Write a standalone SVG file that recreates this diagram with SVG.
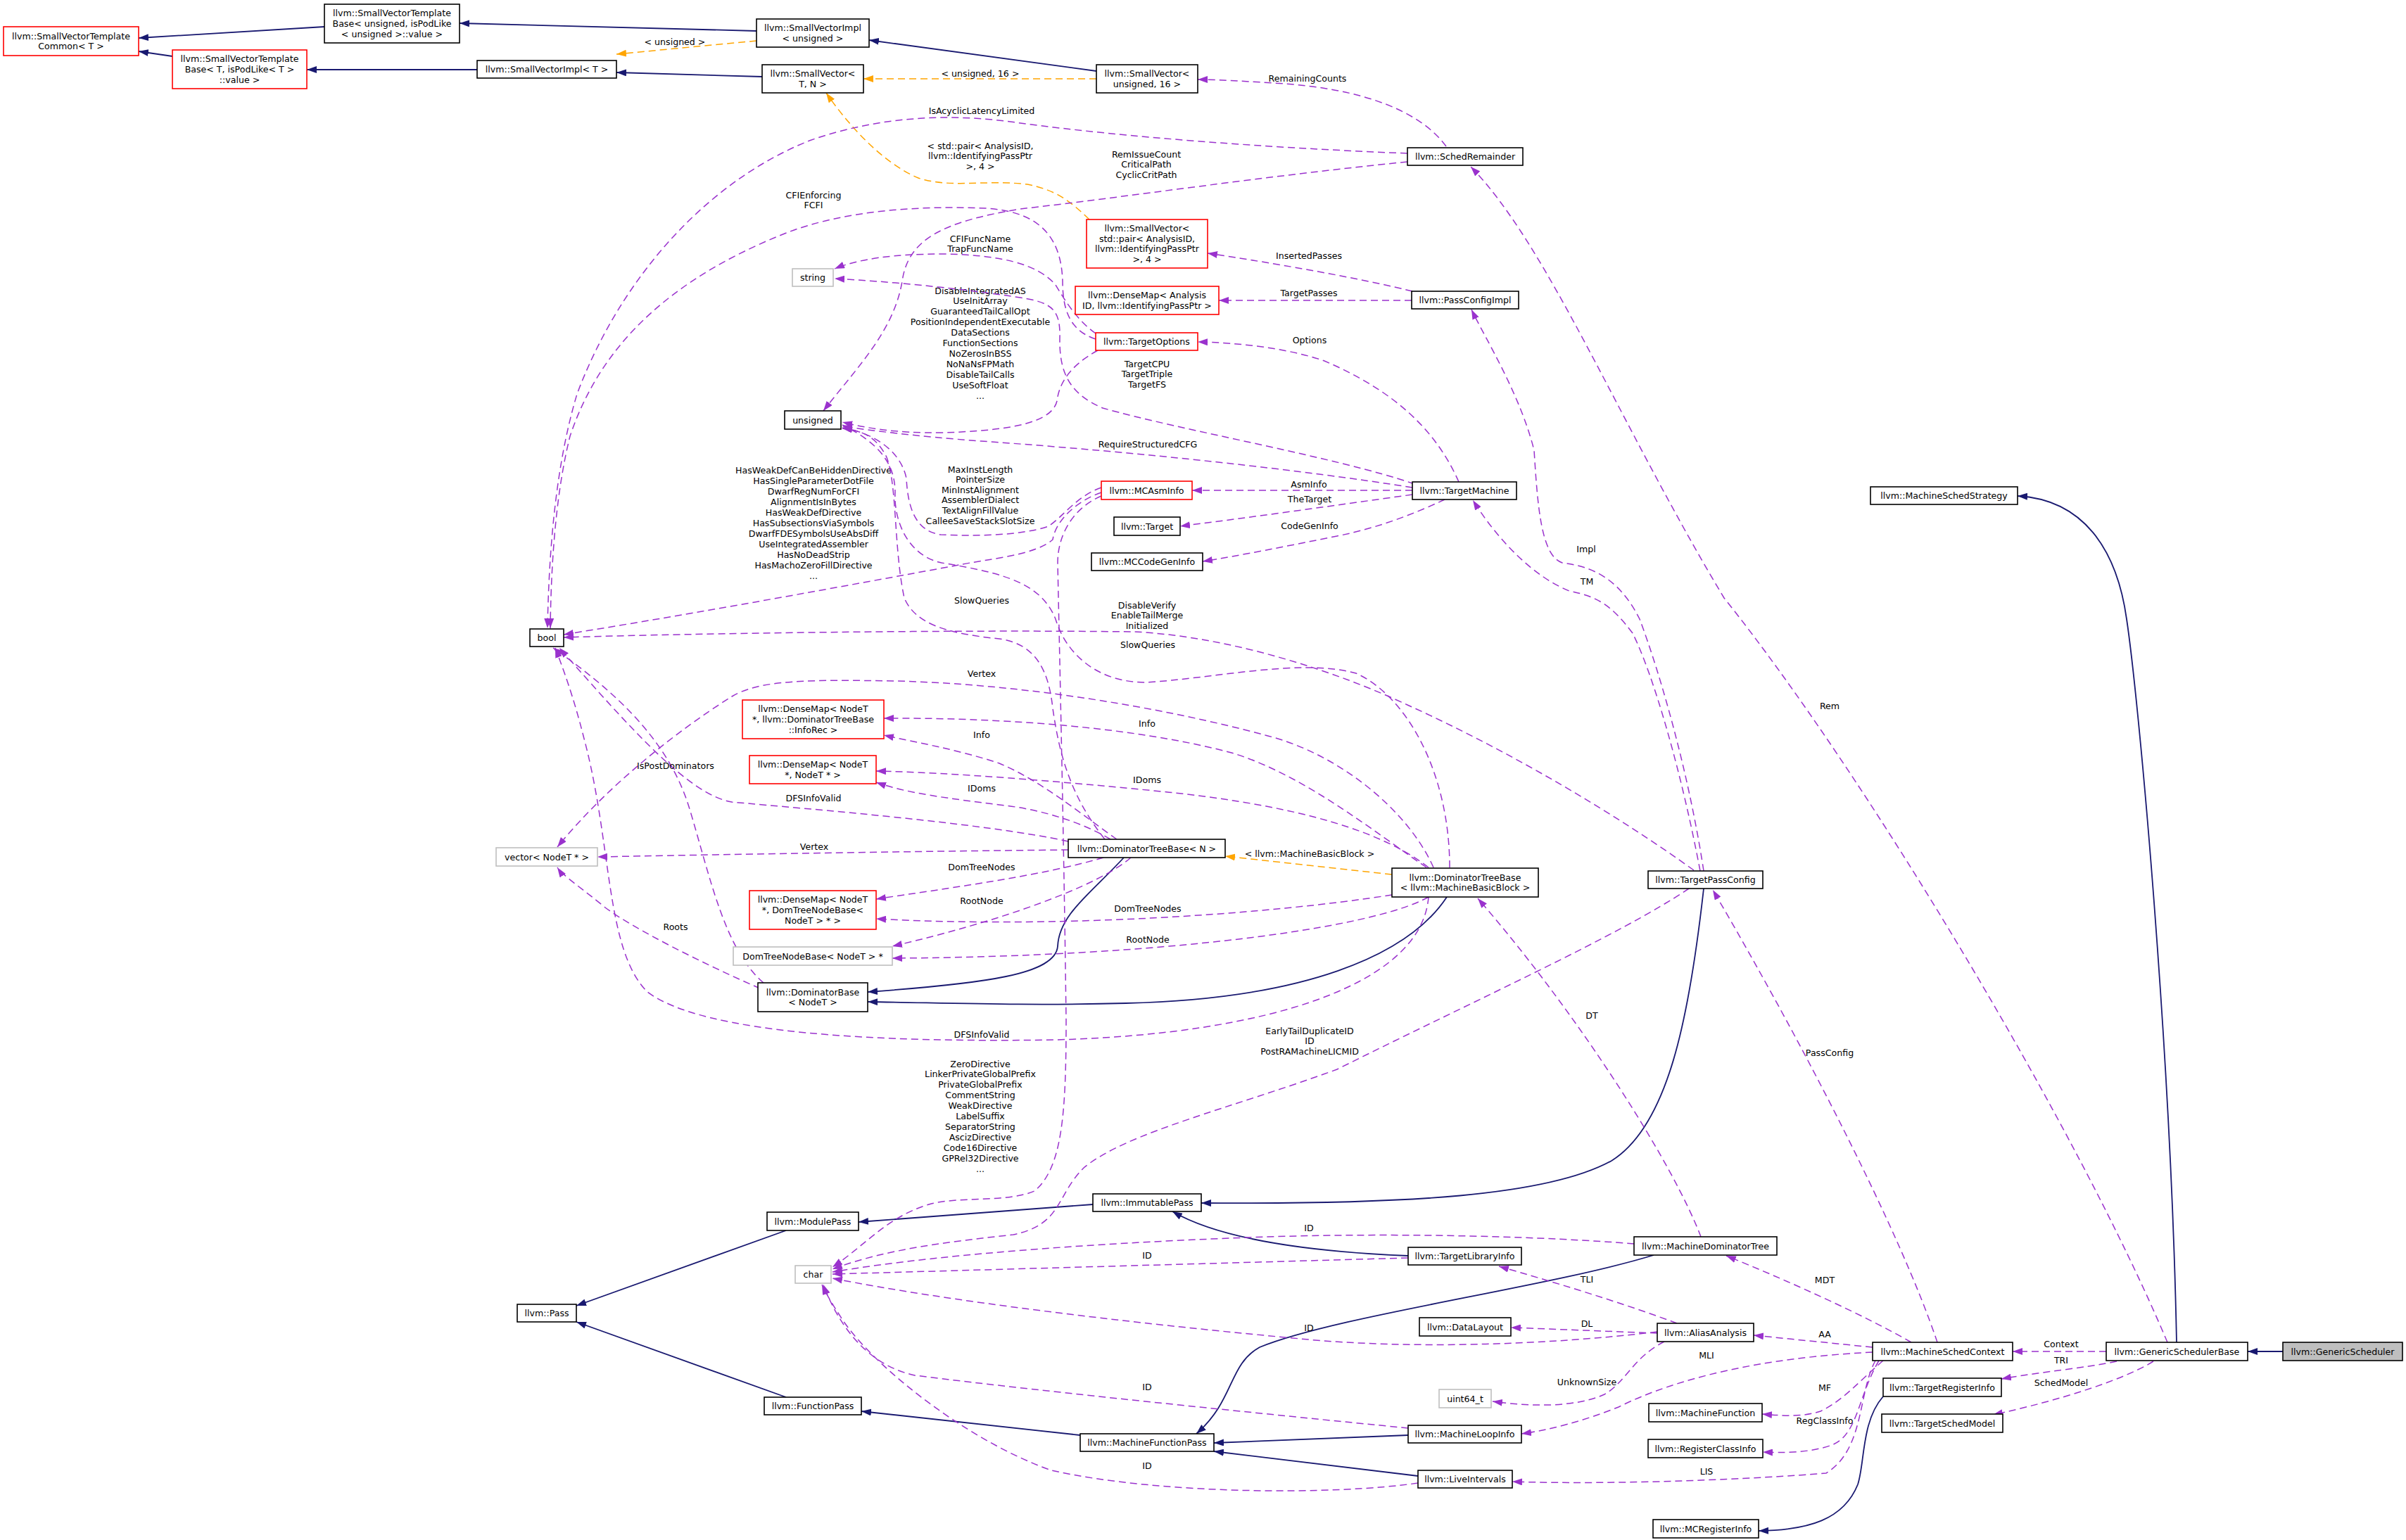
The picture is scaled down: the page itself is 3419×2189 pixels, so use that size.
<svg xmlns="http://www.w3.org/2000/svg" width="3419" height="2189" viewBox="0 0 3419 2189">
<style>
text{font-family:"DejaVu Sans","Liberation Sans",sans-serif;font-size:12.6px;fill:#000;text-anchor:middle}
.n rect{fill:#fff;stroke:#000;stroke-width:1.6}
.n.r rect{stroke:#ff0000}
.n.g rect{stroke:#bfbfbf}
.n.h rect{fill:#bfbfbf}
.i{fill:none;stroke:#191970;stroke-width:1.8;marker-end:url(#ai)}
.u{fill:none;stroke:#9a32cd;stroke-width:1.5;stroke-dasharray:10,6;marker-end:url(#au)}
.t{fill:none;stroke:#ffa500;stroke-width:1.5;stroke-dasharray:10,6;marker-end:url(#at)}
</style>
<defs>
<marker id="ai" viewBox="0 0 14 10" refX="14" refY="5" markerWidth="14" markerHeight="10" markerUnits="userSpaceOnUse" orient="auto"><path d="M0,0L14,5L0,10z" fill="#191970"/></marker>
<marker id="au" viewBox="0 0 14 10" refX="14" refY="5" markerWidth="14" markerHeight="10" markerUnits="userSpaceOnUse" orient="auto"><path d="M0,0L14,5L0,10z" fill="#9a32cd"/></marker>
<marker id="at" viewBox="0 0 14 10" refX="14" refY="5" markerWidth="14" markerHeight="10" markerUnits="userSpaceOnUse" orient="auto"><path d="M0,0L14,5L0,10z" fill="#ffa500"/></marker>
</defs>
<rect width="3419" height="2189" fill="#fff"/>
<g id="edges">
<path class="i" d="M461,38L197,54"/>
<path class="i" d="M245,80L197,73"/>
<path class="i" d="M1075,44L653,33"/>
<path class="i" d="M678,99L436,99"/>
<path class="i" d="M1083,109L876,103"/>
<path class="i" d="M1558,101L1235,57"/>
<path class="i" d="M1597,1219C1550,1270 1505,1300 1503,1345C1500,1385 1400,1398 1233,1410"/>
<path class="i" d="M2056,1275C2000,1360 1850,1420 1600,1426C1450,1430 1330,1425 1233,1424"/>
<path class="i" d="M2421,1263C2400,1450 2370,1600 2290,1650C2200,1700 2000,1712 1707,1710"/>
<path class="i" d="M1553,1712L1220,1737"/>
<path class="i" d="M1117,1749L819,1856"/>
<path class="i" d="M1117,1986L819,1879"/>
<path class="i" d="M1535,2040L1224,2006"/>
<path class="i" d="M2001,1785C1880,1780 1740,1765 1666,1722"/>
<path class="i" d="M2350,1784C2200,1830 1900,1870 1790,1915C1745,1940 1755,1990 1700,2038"/>
<path class="i" d="M2001,2040L1725,2051"/>
<path class="i" d="M2015,2098L1725,2063"/>
<path class="i" d="M3244,1921L3194,1921"/>
<path class="i" d="M3093,1908C3085,1500 3040,1000 3022,880C3008,780 2960,710 2867,705"/>
<path class="i" d="M2676,1985C2645,2020 2650,2080 2640,2110C2620,2160 2570,2175 2499,2176"/>

<g><path class="t" d="M1075,58L876,77"/><text x="959" y="63.5">&lt; unsigned &gt;</text></g>
<g><path class="t" d="M1558,112L1227,112"/><text x="1393" y="108.5">&lt; unsigned, 16 &gt;</text></g>
<g><path class="t" d="M1548,312C1520,285 1500,270 1460,262C1400,255 1350,268 1305,253C1250,230 1200,170 1174,132"/><text x="1393" y="211.5">&lt; std::pair&lt; AnalysisID,<tspan x="1393" dy="14.8">llvm::IdentifyingPassPtr</tspan><tspan x="1393" dy="14.8">&gt;, 4 &gt;</tspan></text></g>
<g><path class="t" d="M1978,1243L1741,1217"/><text x="1861" y="1217.5">&lt; llvm::MachineBasicBlock &gt;</text></g>

<g><path class="u" d="M2055,208C2020,160 1940,125 1810,118C1760,115 1730,113 1702,113"/><text x="1858" y="115.5">RemainingCounts</text></g>
<g><path class="u" d="M2000,218C1800,210 1600,195 1450,175C1350,160 1250,165 1150,200C1000,260 880,400 820,560C790,660 780,780 778,893"/><text x="1395" y="162">IsAcyclicLatencyLimited</text></g>
<g><path class="u" d="M2000,230C1800,250 1600,280 1450,297C1340,315 1290,340 1282,400C1270,470 1220,520 1170,584"/><text x="1629" y="223.5">RemIssueCount<tspan x="1629" dy="14.8">CriticalPath</tspan><tspan x="1629" dy="14.8">CyclicCritPath</tspan></text></g>
<g><path class="u" d="M1557,482C1520,470 1510,440 1510,400C1508,330 1470,300 1400,296C1300,292 1200,300 1120,330C980,385 860,470 810,620C790,700 783,800 782,893"/><text x="1156" y="281.5">CFIEnforcing<tspan x="1156" dy="14.8">FCFI</tspan></text></g>
<g><path class="u" d="M1557,474C1530,455 1512,425 1500,405C1475,375 1420,362 1340,361C1270,361 1220,368 1186,382"/><text x="1393" y="343.5">CFIFuncName<tspan x="1393" dy="14.8">TrapFuncName</tspan></text></g>
<g><path class="u" d="M1560,498C1520,520 1505,545 1502,570C1495,600 1440,612 1340,615C1270,616 1230,608 1197,600"/><text x="1393" y="417.5">DisableIntegratedAS<tspan x="1393" dy="14.9">UseInitArray</tspan><tspan x="1393" dy="14.9">GuaranteedTailCallOpt</tspan><tspan x="1393" dy="14.9">PositionIndependentExecutable</tspan><tspan x="1393" dy="14.9">DataSections</tspan><tspan x="1393" dy="14.9">FunctionSections</tspan><tspan x="1393" dy="14.9">NoZerosInBSS</tspan><tspan x="1393" dy="14.9">NoNaNsFPMath</tspan><tspan x="1393" dy="14.9">DisableTailCalls</tspan><tspan x="1393" dy="14.9">UseSoftFloat</tspan><tspan x="1393" dy="14.9">...</tspan></text></g>
<g><path class="u" d="M2010,688C1900,650 1680,612 1567,580C1520,560 1505,530 1506,480C1507,440 1495,430 1450,423C1350,408 1260,400 1186,396"/><text x="1630" y="521.5">TargetCPU<tspan x="1630" dy="14.8">TargetTriple</tspan><tspan x="1630" dy="14.8">TargetFS</tspan></text></g>
<g><path class="u" d="M2073,685C2040,610 1980,555 1882,513C1830,495 1760,487 1702,486"/><text x="1861" y="487.5">Options</text></g>
<g><path class="u" d="M2007,693C1850,668 1624,643 1394,627C1300,620 1240,612 1197,606"/><text x="1631" y="636">RequireStructuredCFG</text></g>
<g><path class="u" d="M2007,697L1694,697"/><text x="1860" y="692.5">AsmInfo</text></g>
<g><path class="u" d="M2007,703C1900,718 1780,735 1677,748"/><text x="1861" y="713.5">TheTarget</text></g>
<g><path class="u" d="M2053,710C2010,730 1960,750 1900,762C1830,776 1760,790 1709,798"/><text x="1861" y="751.5">CodeGenInfo</text></g>
<g><path class="u" d="M1565,700C1530,712 1500,740 1496,767C1470,790 1400,795 1363,803C1200,833 1000,870 801,902"/><text x="1156" y="672.5">HasWeakDefCanBeHiddenDirective<tspan x="1156" dy="15">HasSingleParameterDotFile</tspan><tspan x="1156" dy="15">DwarfRegNumForCFI</tspan><tspan x="1156" dy="15">AlignmentIsInBytes</tspan><tspan x="1156" dy="15">HasWeakDefDirective</tspan><tspan x="1156" dy="15">HasSubsectionsViaSymbols</tspan><tspan x="1156" dy="15">DwarfFDESymbolsUseAbsDiff</tspan><tspan x="1156" dy="15">UseIntegratedAssembler</tspan><tspan x="1156" dy="15">HasNoDeadStrip</tspan><tspan x="1156" dy="15">HasMachoZeroFillDirective</tspan><tspan x="1156" dy="15">...</tspan></text></g>
<g><path class="u" d="M1565,693C1530,705 1510,735 1490,748C1450,762 1380,762 1337,760C1300,755 1290,720 1288,680C1280,640 1240,615 1197,608"/><text x="1393" y="671.5">MaxInstLength<tspan x="1393" dy="14.6">PointerSize</tspan><tspan x="1393" dy="14.6">MinInstAlignment</tspan><tspan x="1393" dy="14.6">AssemblerDialect</tspan><tspan x="1393" dy="14.6">TextAlignFillValue</tspan><tspan x="1393" dy="14.6">CalleeSaveStackSlotSize</tspan></text></g>
<g><path class="u" d="M1565,705C1525,722 1503,760 1503,800C1505,900 1512,1200 1515,1450C1515,1580 1510,1660 1470,1693C1430,1710 1360,1700 1320,1712C1260,1730 1230,1770 1183,1801"/><text x="1393" y="1516.5">ZeroDirective<tspan x="1393" dy="14.9">LinkerPrivateGlobalPrefix</tspan><tspan x="1393" dy="14.9">PrivateGlobalPrefix</tspan><tspan x="1393" dy="14.9">CommentString</tspan><tspan x="1393" dy="14.9">WeakDirective</tspan><tspan x="1393" dy="14.9">LabelSuffix</tspan><tspan x="1393" dy="14.9">SeparatorString</tspan><tspan x="1393" dy="14.9">AscizDirective</tspan><tspan x="1393" dy="14.9">Code16Directive</tspan><tspan x="1393" dy="14.9">GPRel32Directive</tspan><tspan x="1393" dy="14.9">...</tspan></text></g>
<g><path class="u" d="M2407,1237C2300,1160 2150,1070 2000,1002C1900,955 1750,905 1612,898C1350,895 1000,900 801,906"/><text x="1630" y="864.5">DisableVerify<tspan x="1630" dy="14.5">EnableTailMerge</tspan><tspan x="1630" dy="14.5">Initialized</tspan></text></g>
<g><path class="u" d="M1570,1193C1520,1130 1505,1070 1496,1007C1490,950 1470,915 1420,908C1340,900 1300,885 1285,850C1270,780 1275,690 1260,650C1245,620 1225,612 1197,609"/><text x="1395" y="857.5">SlowQueries</text></g>
<g><path class="u" d="M2060,1233C2060,1100 2000,990 1927,957C1850,935 1720,965 1628,970C1560,970 1515,930 1500,880C1480,830 1430,815 1338,800C1290,790 1270,740 1272,700C1272,660 1250,630 1197,604"/><text x="1631" y="920.5">SlowQueries</text></g>
<g><path class="u" d="M2037,1233C2000,1150 1900,1070 1798,1045C1650,1005 1450,972 1272,968C1150,966 1080,966 1040,990C960,1040 860,1120 792,1204"/><text x="1395" y="962">Vertex</text></g>
<g><path class="u" d="M2027,1233C1950,1180 1850,1100 1750,1070C1600,1030 1400,1020 1256,1021"/><text x="1630" y="1032.5">Info</text></g>
<g><path class="u" d="M1587,1193C1540,1160 1480,1110 1420,1085C1360,1065 1300,1055 1256,1045"/><text x="1395" y="1048.5">Info</text></g>
<g><path class="u" d="M2030,1233C1950,1170 1800,1140 1650,1125C1500,1110 1350,1098 1245,1096"/><text x="1630" y="1112.5">IDoms</text></g>
<g><path class="u" d="M1578,1193C1540,1170 1480,1150 1420,1144C1350,1135 1290,1128 1245,1112"/><text x="1395" y="1124.5">IDoms</text></g>
<g><path class="u" d="M1518,1196C1400,1170 1150,1150 1040,1140C980,1130 900,1040 795,921"/><text x="1156" y="1138.5">DFSInfoValid</text></g>
<g><path class="u" d="M1518,1208C1300,1210 1000,1215 849,1218"/><text x="1157" y="1207.5">Vertex</text></g>
<g><path class="u" d="M1568,1219C1480,1245 1350,1262 1245,1278"/><text x="1395" y="1236.5">DomTreeNodes</text></g>
<g><path class="u" d="M1978,1272C1800,1300 1500,1320 1245,1306"/><text x="1631" y="1295.5">DomTreeNodes</text></g>
<g><path class="u" d="M1607,1219C1560,1260 1420,1310 1268,1345"/><text x="1395" y="1284.5">RootNode</text></g>
<g><path class="u" d="M2030,1275C1950,1320 1650,1360 1268,1362"/><text x="1631" y="1339.5">RootNode</text></g>
<g><path class="u" d="M2030,1275C2020,1400 1800,1470 1500,1478C1250,1482 1000,1470 920,1410C860,1350 870,1200 830,1050C815,990 800,950 789,921"/><text x="1395" y="1474.5">DFSInfoValid</text></g>
<g><path class="u" d="M1085,1397C1030,1350 1010,1250 980,1150C950,1050 870,980 786,921"/><text x="960" y="1092.5">IsPostDominators</text></g>
<g><path class="u" d="M1080,1405C1000,1370 900,1320 860,1290C830,1265 800,1245 792,1233"/><text x="960" y="1321.5">Roots</text></g>
<g><path class="u" d="M2400,1263C2300,1330 2100,1420 1900,1520C1750,1575 1600,1610 1540,1660C1500,1700 1510,1740 1440,1755C1350,1765 1260,1775 1183,1804"/><text x="1861" y="1469.5">EarlyTailDuplicateID<tspan x="1861" dy="14.8">ID</tspan><tspan x="1861" dy="14.8">PostRAMachineLICMID</tspan></text></g>
<g><path class="u" d="M2322,1768C2200,1758 2000,1752 1800,1758C1600,1765 1350,1780 1183,1808"/><text x="1860" y="1750">ID</text></g>
<g><path class="u" d="M2001,1788L1183,1811"/><text x="1630" y="1789">ID</text></g>
<g><path class="u" d="M2355,1893C2200,1912 2000,1918 1848,1903C1600,1880 1350,1850 1183,1817"/><text x="1860" y="1891.5">ID</text></g>
<g><path class="u" d="M2001,2030C1800,2010 1500,1980 1300,1955C1230,1940 1190,1880 1170,1826"/><text x="1630" y="1975.5">ID</text></g>
<g><path class="u" d="M2015,2108C1900,2125 1650,2125 1494,2090C1380,2050 1250,1950 1200,1880C1180,1850 1172,1835 1168,1826"/><text x="1630" y="2087.5">ID</text></g>
<g><path class="u" d="M2417,1758C2380,1660 2250,1450 2100,1277"/><text x="2262" y="1447.5">DT</text></g>
<g><path class="u" d="M2383,1881C2300,1850 2200,1820 2130,1800"/><text x="2255" y="1822.5">TLI</text></g>
<g><path class="u" d="M2355,1895L2147,1887"/><text x="2255" y="1886">DL</text></g>
<g><path class="u" d="M2365,1907C2320,1930 2310,1965 2280,1982C2240,2000 2180,2000 2121,1992"/><text x="2255" y="1968.5">UnknownSize</text></g>
<g><path class="u" d="M2716,1908C2650,1870 2540,1820 2453,1785"/><text x="2593" y="1823.5">MDT</text></g>
<g><path class="u" d="M2661,1915L2492,1898"/><text x="2593" y="1900.5">AA</text></g>
<g><path class="u" d="M2661,1922C2500,1930 2380,1960 2300,2000C2250,2020 2200,2033 2162,2038"/><text x="2425" y="1930.5">MLI</text></g>
<g><path class="u" d="M2676,1934C2640,1965 2620,1990 2587,2006C2560,2015 2530,2012 2504,2010"/><text x="2593" y="1976.5">MF</text></g>
<g><path class="u" d="M2670,1934C2640,1985 2640,2040 2603,2054C2570,2066 2530,2065 2505,2064"/><text x="2593" y="2023.5">RegClassInfo</text></g>
<g><path class="u" d="M2665,1934C2640,1980 2650,2060 2595,2094C2500,2102 2300,2111 2149,2106"/><text x="2425" y="2095.5">LIS</text></g>
<g><path class="u" d="M2753,1908C2700,1750 2560,1480 2434,1265"/><text x="2600" y="1500.5">PassConfig</text></g>
<g><path class="u" d="M2993,1921L2860,1921"/><text x="2929" y="1915">Context</text></g>
<g><path class="u" d="M3008,1935C2960,1945 2900,1950 2844,1960"/><text x="2929" y="1937.5">TRI</text></g>
<g><path class="u" d="M3060,1935C3020,1960 2930,1990 2832,2011"/><text x="2929" y="1969.5">SchedModel</text></g>
<g><path class="u" d="M3080,1908C2950,1600 2650,1100 2450,850C2300,600 2200,350 2090,237"/><text x="2600" y="1007.5">Rem</text></g>
<g><path class="u" d="M2421,1238C2400,1100 2360,960 2330,880C2300,820 2260,805 2220,800C2190,790 2185,720 2180,640C2160,560 2110,480 2091,440"/><text x="2254" y="784.5">Impl</text></g>
<g><path class="u" d="M2416,1238C2390,1100 2350,960 2320,900C2290,860 2270,848 2230,840C2180,820 2130,770 2093,711"/><text x="2255" y="830.5">TM</text></g>
<g><path class="u" d="M2007,414C1950,400 1850,380 1716,360"/><text x="1860" y="367.5">InsertedPasses</text></g>
<g><path class="u" d="M2006,427L1732,427"/><text x="1860" y="421">TargetPasses</text></g>
</g>

<g id="node1" class="n r"><rect x="5" y="38" width="192" height="41"/><text x="101" y="55.6">llvm::SmallVectorTemplate<tspan x="101" dy="14.8">Common&lt; T &gt;</tspan></text></g>
<g id="node2" class="n"><rect x="461" y="6" width="192" height="55"/><text x="557" y="23.2">llvm::SmallVectorTemplate<tspan x="557" dy="14.8">Base&lt; unsigned, isPodLike</tspan><tspan x="557" dy="14.8">&lt; unsigned &gt;::value &gt;</tspan></text></g>
<g id="node3" class="n r"><rect x="245" y="71" width="191" height="55"/><text x="340.5" y="88.2">llvm::SmallVectorTemplate<tspan x="340.5" dy="14.8">Base&lt; T, isPodLike&lt; T &gt;</tspan><tspan x="340.5" dy="14.8">::value &gt;</tspan></text></g>
<g id="node4" class="n"><rect x="678" y="86" width="198" height="25"/><text x="777" y="103">llvm::SmallVectorImpl&lt; T &gt;</text></g>
<g id="node5" class="n"><rect x="1075" y="27" width="160" height="40"/><text x="1155" y="44.1">llvm::SmallVectorImpl<tspan x="1155" dy="14.8">&lt; unsigned &gt;</tspan></text></g>
<g id="node6" class="n"><rect x="1083" y="92" width="144" height="40"/><text x="1155" y="109.1">llvm::SmallVector&lt;<tspan x="1155" dy="14.8">T, N &gt;</tspan></text></g>
<g id="node7" class="n"><rect x="1558" y="92" width="144" height="40"/><text x="1630" y="109.1">llvm::SmallVector&lt;<tspan x="1630" dy="14.8">unsigned, 16 &gt;</tspan></text></g>
<g id="node8" class="n"><rect x="2000" y="210" width="164" height="25"/><text x="2082" y="227">llvm::SchedRemainder</text></g>
<g id="node9" class="n r"><rect x="1544" y="312" width="172" height="69"/><text x="1630" y="328.8">llvm::SmallVector&lt;<tspan x="1630" dy="14.8">std::pair&lt; AnalysisID,</tspan><tspan x="1630" dy="14.8">llvm::IdentifyingPassPtr</tspan><tspan x="1630" dy="14.8">&gt;, 4 &gt;</tspan></text></g>
<g id="node10" class="n r"><rect x="1528" y="407" width="204" height="40"/><text x="1630" y="424.1">llvm::DenseMap&lt; Analysis<tspan x="1630" dy="14.8">ID, llvm::IdentifyingPassPtr &gt;</tspan></text></g>
<g id="node11" class="n"><rect x="2006" y="414" width="152" height="25"/><text x="2082" y="431">llvm::PassConfigImpl</text></g>
<g id="node12" class="n g"><rect x="1126" y="382" width="58" height="25"/><text x="1155" y="399">string</text></g>
<g id="node13" class="n r"><rect x="1557" y="473" width="145" height="25"/><text x="1629.5" y="490">llvm::TargetOptions</text></g>
<g id="node14" class="n"><rect x="1115" y="584" width="80" height="26"/><text x="1155" y="601.5">unsigned</text></g>
<g id="node15" class="n r"><rect x="1565" y="684" width="129" height="26"/><text x="1629.5" y="701.5">llvm::MCAsmInfo</text></g>
<g id="node16" class="n"><rect x="1583" y="735" width="94" height="26"/><text x="1630" y="752.5">llvm::Target</text></g>
<g id="node17" class="n"><rect x="1551" y="786" width="158" height="25"/><text x="1630" y="803">llvm::MCCodeGenInfo</text></g>
<g id="node18" class="n"><rect x="2007" y="685" width="148" height="25"/><text x="2081" y="702">llvm::TargetMachine</text></g>
<g id="node19" class="n"><rect x="2658" y="692" width="209" height="25"/><text x="2762.5" y="709">llvm::MachineSchedStrategy</text></g>
<g id="node20" class="n"><rect x="753" y="894" width="48" height="25"/><text x="777" y="911">bool</text></g>
<g id="node21" class="n r"><rect x="1055" y="995" width="201" height="55"/><text x="1155.5" y="1012.2">llvm::DenseMap&lt; NodeT<tspan x="1155.5" dy="14.8">*, llvm::DominatorTreeBase</tspan><tspan x="1155.5" dy="14.8">::InfoRec &gt;</tspan></text></g>
<g id="node22" class="n r"><rect x="1065" y="1074" width="180" height="40"/><text x="1155" y="1091.1">llvm::DenseMap&lt; NodeT<tspan x="1155" dy="14.8">*, NodeT * &gt;</tspan></text></g>
<g id="node23" class="n g"><rect x="705" y="1205" width="144" height="26"/><text x="777" y="1222.5">vector&lt; NodeT * &gt;</text></g>
<g id="node24" class="n"><rect x="1518" y="1193" width="223" height="26"/><text x="1629.5" y="1210.5">llvm::DominatorTreeBase&lt; N &gt;</text></g>
<g id="node25" class="n"><rect x="1978" y="1234" width="208" height="41"/><text x="2082" y="1251.6">llvm::DominatorTreeBase<tspan x="2082" dy="14.8">&lt; llvm::MachineBasicBlock &gt;</tspan></text></g>
<g id="node26" class="n r"><rect x="1065" y="1266" width="180" height="55"/><text x="1155" y="1283.2">llvm::DenseMap&lt; NodeT<tspan x="1155" dy="14.8">*, DomTreeNodeBase&lt;</tspan><tspan x="1155" dy="14.8">NodeT &gt; * &gt;</tspan></text></g>
<g id="node27" class="n g"><rect x="1042" y="1346" width="226" height="26"/><text x="1155" y="1363.5">DomTreeNodeBase&lt; NodeT &gt; *</text></g>
<g id="node28" class="n"><rect x="1077" y="1397" width="156" height="41"/><text x="1155" y="1414.6">llvm::DominatorBase<tspan x="1155" dy="14.8">&lt; NodeT &gt;</tspan></text></g>
<g id="node29" class="n"><rect x="2342" y="1238" width="163" height="25"/><text x="2423.5" y="1255">llvm::TargetPassConfig</text></g>
<g id="node30" class="n"><rect x="1553" y="1697" width="154" height="25"/><text x="1630" y="1714">llvm::ImmutablePass</text></g>
<g id="node31" class="n"><rect x="1090" y="1723" width="130" height="26"/><text x="1155" y="1740.5">llvm::ModulePass</text></g>
<g id="node32" class="n"><rect x="735" y="1854" width="84" height="25"/><text x="777" y="1871">llvm::Pass</text></g>
<g id="node33" class="n g"><rect x="1130" y="1799" width="51" height="25"/><text x="1155.5" y="1816">char</text></g>
<g id="node34" class="n"><rect x="2322" y="1758" width="203" height="26"/><text x="2423.5" y="1775.5">llvm::MachineDominatorTree</text></g>
<g id="node35" class="n"><rect x="2001" y="1773" width="161" height="25"/><text x="2081.5" y="1790">llvm::TargetLibraryInfo</text></g>
<g id="node36" class="n"><rect x="2017" y="1873" width="130" height="26"/><text x="2082" y="1890.5">llvm::DataLayout</text></g>
<g id="node37" class="n"><rect x="2355" y="1881" width="137" height="26"/><text x="2423.5" y="1898.5">llvm::AliasAnalysis</text></g>
<g id="node38" class="n g"><rect x="2045" y="1975" width="74" height="26"/><text x="2082" y="1992.5">uint64_t</text></g>
<g id="node39" class="n"><rect x="2661" y="1908" width="199" height="26"/><text x="2760.5" y="1925.5">llvm::MachineSchedContext</text></g>
<g id="node40" class="n"><rect x="2993" y="1908" width="201" height="26"/><text x="3093.5" y="1925.5">llvm::GenericSchedulerBase</text></g>
<g id="node41" class="n h"><rect x="3244" y="1908" width="170" height="26"/><text x="3329" y="1925.5">llvm::GenericScheduler</text></g>
<g id="node42" class="n"><rect x="2676" y="1959" width="168" height="26"/><text x="2760" y="1976.5">llvm::TargetRegisterInfo</text></g>
<g id="node43" class="n"><rect x="2674" y="2010" width="172" height="26"/><text x="2760" y="2027.5">llvm::TargetSchedModel</text></g>
<g id="node44" class="n"><rect x="2343" y="1995" width="161" height="26"/><text x="2423.5" y="2012.5">llvm::MachineFunction</text></g>
<g id="node45" class="n"><rect x="2001" y="2026" width="161" height="25"/><text x="2081.5" y="2043">llvm::MachineLoopInfo</text></g>
<g id="node46" class="n"><rect x="1086" y="1986" width="138" height="25"/><text x="1155" y="2003">llvm::FunctionPass</text></g>
<g id="node47" class="n"><rect x="1535" y="2038" width="190" height="25"/><text x="1630" y="2055">llvm::MachineFunctionPass</text></g>
<g id="node48" class="n"><rect x="2342" y="2046" width="163" height="26"/><text x="2423.5" y="2063.5">llvm::RegisterClassInfo</text></g>
<g id="node49" class="n"><rect x="2015" y="2090" width="134" height="25"/><text x="2082" y="2107">llvm::LiveIntervals</text></g>
<g id="node50" class="n"><rect x="2349" y="2160" width="150" height="26"/><text x="2424" y="2177.5">llvm::MCRegisterInfo</text></g>
</svg>
